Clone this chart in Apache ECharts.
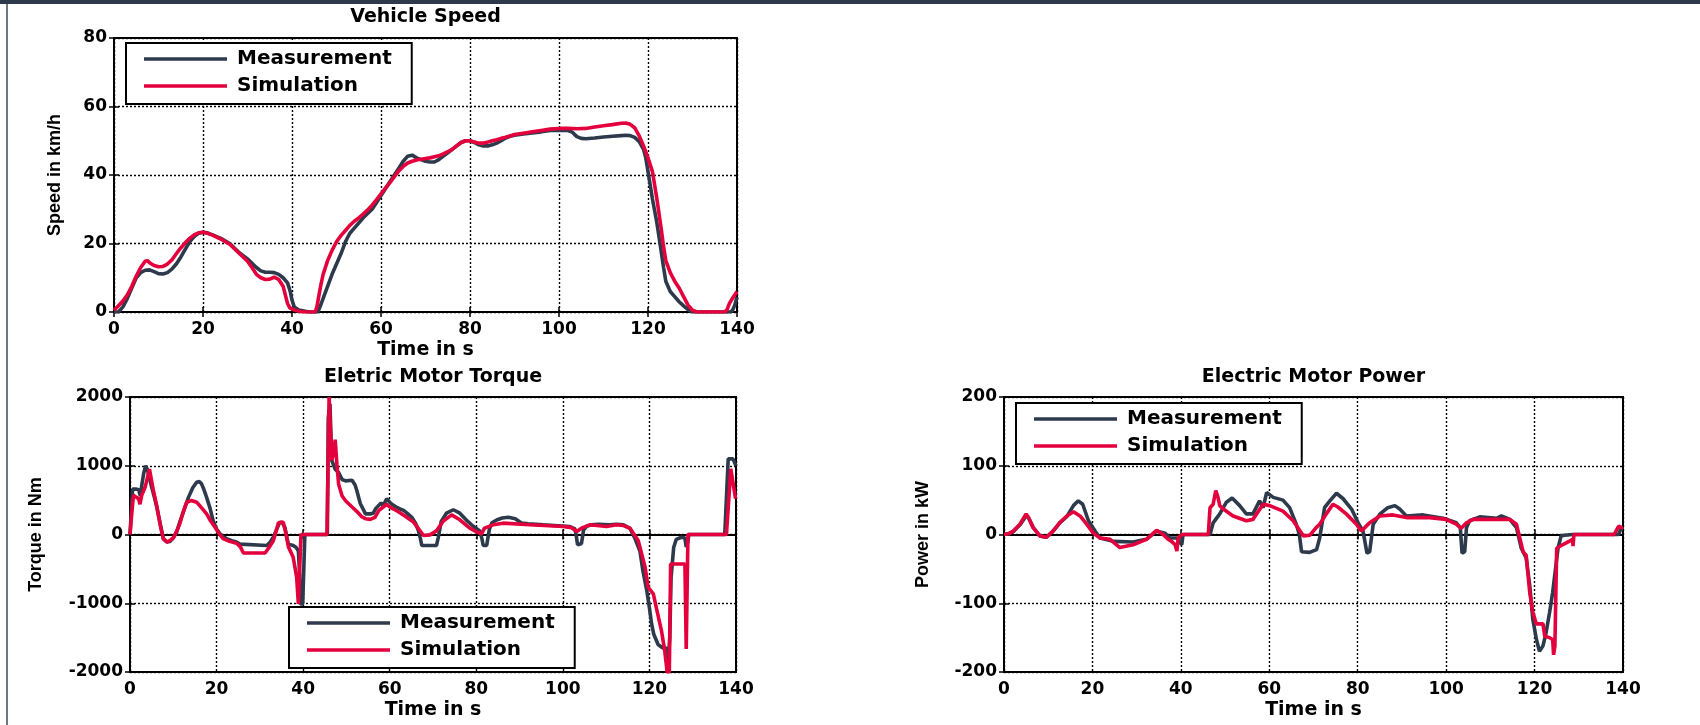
<!DOCTYPE html>
<html>
<head>
<meta charset="utf-8">
<title>Vehicle Speed, Motor Torque and Motor Power</title>
<script src="https://cdn.jsdelivr.net/npm/echarts@6/dist/echarts.min.js"></script>
<style>
  html, body { margin: 0; padding: 0; background: #fff; }
  #chart { width: 1700px; height: 725px; }
</style>
</head>
<body>
<div id="chart"></div>
<script>
// ---- data: [time in s, value] ----
const timeTicks = [0, 20, 40, 60, 80, 100, 120, 140];
const speedTicks = [0, 20, 40, 60, 80];
const torqueTicks = [-2000, -1000, 0, 1000, 2000];
const powerTicks = [-200, -100, 0, 100, 200];
const seriesNames = ['Measurement', 'Simulation'];

const speedMeasurement = [[0,0],[1,0],[2,1.5],[3,4],[4,7],[5,10],[6,11.5],[7,12.2],[8,12.3],[9,11.8],[10,11.2],[11,11.1],[12,11.5],[13,12.5],[14,14],[15,16],[16,18.3],[17,20.5],[18,22],[19,23],[20,23.3],[21,23.1],[22,22.6],[24,21.5],[26,20],[28,17.5],[30,15.5],[32,13],[33,12],[34,11.6],[35,11.6],[36,11.5],[37,11],[38,10],[39,8.5],[39.6,6],[40,3.5],[40.5,1.5],[41.5,0.6],[43,0.2],[44,0],[45.8,0],[46.3,1.5],[47,4],[48,7.5],[49,11],[50,14],[51,17],[52,20.5],[53,23],[54,24.5],[55,26],[56,27.5],[57,28.8],[58,30],[59,32],[60,34],[61,36],[62,38],[63,40],[64,42],[65,44],[66,45.5],[67,45.8],[68,45],[69,44.5],[70,44],[71,43.8],[72,43.8],[73,44.5],[74,45.5],[75,46.5],[76,47.5],[77,48.5],[78,49.5],[79,50],[80,50],[81,49.5],[82,48.8],[83,48.5],[84,48.5],[85,48.8],[86,49.3],[87,50],[88,50.8],[89,51.3],[90,51.6],[92,52],[94,52.3],[96,52.6],[98,53],[100,53],[102,53],[103,52.5],[104,51.2],[105,50.7],[106,50.6],[108,50.8],[110,51.1],[112,51.3],[114,51.5],[115,51.6],[116,51.5],[117,51],[118,49.8],[119,47.5],[119.5,45],[120,41],[121,33],[122,26],[122.7,20],[123.5,13],[124,9],[125,6],[126,4.5],[127,3],[128,1.8],[129,0.7],[130,0],[138.5,0],[139,0.5],[139.5,2],[140,4.4]];

const speedSimulation = [[0,0.5],[1,1.8],[2,3.2],[3,5],[4,7.5],[5,10.5],[6,13],[7,14.8],[7.5,15],[8,14.4],[9,13.6],[10,13.2],[11,13.3],[12,14],[13,15.2],[14,17],[15,18.7],[16,20.2],[17,21.5],[18,22.5],[19,23.1],[20,23.3],[21,23],[22,22.5],[24,21.3],[26,19.8],[28,17.3],[30,14.8],[31,13],[32,11],[33,10],[34,9.5],[35,9.6],[36,10.2],[37,9.5],[38,7.5],[38.5,5],[39,2.5],[39.5,1.2],[40.5,0.6],[42,0.1],[43,0],[45.2,0],[45.6,1.5],[46,4.5],[46.5,8],[47,11],[48,15],[49,18],[50,20.5],[51,22.3],[52,23.8],[53,25.3],[54,26.5],[55,27.5],[56,28.6],[57,29.8],[58,31.2],[59,32.8],[60,34.5],[61,36.2],[62,37.8],[63,39.5],[64,41.2],[65,42.5],[66,43.5],[67,44],[68,44.4],[69,44.6],[70,44.8],[71,45],[72,45.3],[73,45.6],[74,46.2],[75,46.8],[76,47.5],[77,48.5],[78,49.5],[79,50],[80,50],[81,49.6],[82,49.3],[83,49.3],[84,49.6],[85,50],[86,50.3],[87,50.7],[88,51],[89,51.4],[90,51.8],[92,52.2],[94,52.6],[96,53],[98,53.4],[100,53.6],[102,53.6],[104,53.5],[106,53.6],[108,54],[110,54.4],[112,54.7],[114,55.1],[115,55.2],[116,54.8],[117,53.8],[118,51.5],[119,48.5],[120,45],[121,41],[122,33],[123,24],[123.4,20],[124,15],[125,11.5],[126,9],[127,7],[128,4.5],[129,2],[130,0.5],[131,0],[137.2,0],[137.7,0.5],[138.3,2.5],[139,4],[140,6]];

const torqueMeasurement = [[0,0],[0.4,0],[0.6,660],[1,680],[1.5,660],[2,650],[2.4,560],[2.8,750],[3.2,900],[3.6,1000],[4,950],[4.5,820],[5,690],[5.6,550],[6.2,400],[7,150],[7.7,-60],[8.5,-110],[9.2,-100],[10,-50],[10.8,40],[11.5,180],[12.5,360],[13.5,540],[14.5,680],[15.4,760],[16,770],[16.5,740],[17.1,650],[17.7,540],[18.5,380],[19.2,200],[20,80],[20.8,10],[21.5,-30],[22.3,-60],[23.5,-90],[24.6,-110],[25.4,-140],[25.8,-160],[31.6,-160],[32.4,-110],[33.1,-40],[33.8,60],[34.6,180],[35.2,170],[35.8,100],[36.3,-60],[36.6,-140],[37.7,-160],[38.4,-190],[38.9,-240],[39.2,-600],[39.4,-1010],[39.9,-1010],[40.4,0],[45.6,0],[45.8,1700],[46.2,1900],[46.6,1080],[47.4,950],[48.2,900],[49,800],[49.8,780],[51.3,790],[52,720],[52.4,640],[53.2,450],[54.4,300],[55.5,300],[56.2,310],[56.8,380],[57.4,420],[58,460],[58.5,420],[59.3,520],[60,470],[60.5,440],[61.5,400],[62.5,370],[63.2,350],[64,310],[65.1,250],[66,160],[66.6,60],[67.1,-60],[67.4,-160],[70.8,-160],[71.2,-50],[71.9,190],[73.1,310],[74.7,360],[76.2,310],[77.7,210],[79.3,120],[80.8,50],[81.3,-60],[81.6,-160],[82.4,-160],[83,70],[83.6,170],[84.7,210],[86,240],[87.4,250],[89,230],[90.5,165],[92,155],[95.5,140],[98,130],[101.6,115],[102.8,80],[103.1,-20],[103.4,-150],[104.3,-130],[104.8,70],[105.5,120],[106.6,140],[108.2,150],[110.8,140],[112.4,150],[114,140],[115.5,90],[116.6,-50],[117.8,-240],[118.5,-530],[119.4,-820],[120,-1070],[120.5,-1300],[121,-1450],[122,-1600],[123.1,-1650],[123.9,-1650],[124.2,-2000],[124.5,-2000],[124.7,-1500],[125,-630],[125.6,-190],[126.2,-70],[127.4,-40],[128.2,-50],[128.5,-180],[128.9,-100],[129.1,0],[137.4,0],[138.2,1100],[139.3,1100],[140,1000]];

const torqueSimulation = [[0,0],[0.4,300],[0.8,570],[1.5,540],[2,520],[2.3,440],[2.7,570],[3.5,690],[4.5,950],[5.4,640],[6,470],[6.5,300],[7.1,100],[7.7,-60],[8.5,-110],[9.2,-90],[10,-50],[10.8,50],[11.5,155],[12.3,330],[13.1,470],[14.2,495],[15.4,470],[16.5,390],[17.7,300],[18.6,200],[19.6,110],[20.5,20],[21.5,-60],[23,-100],[24.6,-126],[25.5,-180],[26.2,-270],[31.2,-270],[32,-200],[33.1,-90],[33.8,60],[34.3,170],[35.4,180],[36,20],[36.6,-180],[37.7,-330],[38.5,-620],[38.9,-1010],[39.2,-1010],[39.5,0],[45.5,0],[46,2000],[46.6,1080],[47.1,1200],[47.4,1380],[47.8,1020],[48.2,730],[49,560],[49.8,490],[51.3,400],[52.5,330],[53.5,260],[54.4,230],[55.5,220],[56.6,250],[57.5,350],[58.5,400],[59.3,440],[60,400],[60.9,370],[62,330],[63.5,270],[65.5,180],[66.8,70],[67.8,-15],[69.3,-5],[70.8,53],[72.3,190],[74.3,286],[76.2,214],[78.5,92],[80,40],[81.2,10],[81.9,92],[83.9,141],[86.2,165],[92.4,141],[100.1,117],[102,100],[103.2,44],[104.3,92],[106.2,141],[110.1,117],[112.4,141],[114,130],[115.5,92],[117.4,-87],[119,-476],[119.7,-767],[120.9,-864],[121.6,-1068],[122.8,-1407],[123.5,-1675],[124.1,-2000],[124.6,-2000],[124.9,-430],[128.2,-430],[128.5,-1665],[128.9,0],[137.8,0],[138.8,956],[139.9,519]];

const powerMeasurement = [[0,0],[1,1],[2.1,4],[3.6,14],[5,27],[5.5,25],[6.6,10],[8.1,-2],[9.6,-4],[11.1,5],[12.6,17],[14.2,26],[15.7,42],[16.8,49],[17.8,44],[19.1,20],[20.6,5],[21.7,-5],[24.7,-10],[29.2,-11],[32.2,-7],[34.5,5],[36.4,2],[37.5,-5],[39.1,-5],[40.2,-15],[40.5,0],[46.6,0],[47.3,17],[48.8,30],[50.3,47],[51.6,53],[53.3,42],[54.8,30],[56.3,30],[57.8,49],[58.6,39],[59.4,61],[60.9,54],[63.1,50],[64.6,39],[66.1,15],[66.8,0],[67.3,-25],[69.1,-26],[70.7,-22],[71.4,-5],[72.5,39],[73.7,49],[75.2,60],[76.7,52],[78.6,37],[80.1,17],[81.2,5],[82.1,-27],[82.7,-25],[83.5,15],[85,29.5],[86.8,39],[88.4,42],[89.5,37],[91,27],[94.8,28.5],[99.3,23.6],[102.3,17],[103.2,10],[103.6,-27],[104.2,-25],[104.6,10],[105.3,20],[107.6,25.6],[111.4,23.6],[112.5,27],[114.4,22],[115.9,10],[117,-20],[118.1,-34],[118.9,-74],[119.6,-123],[120.4,-152],[121.1,-170],[121.9,-162],[122.6,-143],[123.4,-113],[124.1,-84],[125.3,-20],[126,-2],[126.8,-1],[128.6,0],[139,0],[139.5,8],[140,8]];

const powerSimulation = [[0,0],[1,1],[2.1,5],[3.6,15],[5,30],[5.5,25],[6.6,10],[8.1,-2],[9.6,-4],[11.1,5],[12.6,17],[14.2,27],[15.7,33],[17.2,27],[18.7,15],[20.2,2],[21.7,-5],[24,-7],[26.2,-19],[29.2,-15],[32.2,-7],[34.5,6],[36,0],[37.1,-7],[37.9,-10],[38.7,-15],[39.1,-24],[39.4,-5],[40.2,0],[46.2,0],[46.6,39],[47.3,44],[47.9,64],[48.4,54],[48.8,42],[49.6,37],[51.8,27],[54.8,20],[56.3,22],[58.6,44],[60.1,42],[63.1,34],[65.4,20],[67.7,-2],[69.2,-1],[70.6,10],[71.4,15],[72.9,30],[74.4,44],[75.5,40],[77.4,30],[79.7,15],[80.8,5],[81.6,10],[82.7,17],[85,27],[88,28.5],[91,24.6],[96.3,24.6],[100,22],[102.3,15],[103.4,9],[104.6,17],[106.1,22],[110.6,22],[114.4,22],[115.9,15],[117.4,-25],[118.1,-30],[118.9,-84],[119.6,-113],[120.4,-130],[121.9,-130],[122.3,-148],[123.4,-150],[124.1,-153],[124.3,-175],[124.6,-162],[125,-20],[126.3,-15],[127.8,-10],[128.6,-7],[128.7,-17],[128.9,0],[138,0],[139,12],[139.8,10],[140,11]];

// ---- styling ----
const COLOR_MEAS = '#2d3a4c';
const COLOR_SIM = '#e4003c';
const TICK_FONT = 'DejaVu Sans';
const NAME_FONT = 'Liberation Sans';

// panel geometry in pixels
const panels = [
  { left: 114, top: 38, width: 623, height: 274, yTicks: speedTicks, yName: 'Speed in km/h', yNameGap: 50,
    title: 'Vehicle Speed', titleTop: 8, legend: { left: 126, top: 43 },
    meas: speedMeasurement, sim: speedSimulation },
  { left: 130, top: 397, width: 606, height: 275, yTicks: torqueTicks, yName: 'Torque in Nm', yNameGap: 85,
    title: 'Eletric Motor Torque', titleTop: 368, legend: { left: 289, top: 607 },
    meas: torqueMeasurement, sim: torqueSimulation },
  { left: 1004, top: 397, width: 619, height: 275, yTicks: powerTicks, yName: 'Power in kW', yNameGap: 72,
    title: 'Electric Motor Power', titleTop: 368, legend: { left: 1016, top: 403 },
    meas: powerMeasurement, sim: powerSimulation }
];

const grids = [], xAxes = [], yAxes = [], series = [], titles = [], legends = [];
const dotted = { type: [2, 2], color: '#000', width: 1.4 };
const tickLabel = { color: '#000', fontFamily: TICK_FONT, fontWeight: 'bold', fontSize: 17,
  formatter: v => String(v) };

panels.forEach((p, i) => {
  grids.push({ left: p.left, top: p.top, width: p.width, height: p.height,
    show: true, borderColor: '#000', borderWidth: 2, backgroundColor: '#fff' });
  titles.push({ text: p.title, left: p.left + p.width / 2, top: p.titleTop, textAlign: 'center', padding: 0,
    textStyle: { color: '#000', fontFamily: TICK_FONT, fontWeight: 'bold', fontSize: 19 } });
  legends.push({ data: seriesNames, orient: 'vertical', left: p.legend.left, top: p.legend.top,
    icon: 'rect', itemWidth: 83, itemHeight: 3.5, itemGap: 7, padding: [6, 20, 8, 18], selectedMode: false,
    borderColor: '#000', borderWidth: 2, backgroundColor: '#fff', z: 10,
    textStyle: { color: '#000', fontFamily: TICK_FONT, fontWeight: 'bold', fontSize: 20, padding: [0, 0, 0, 5] } });
});

// bottom / left axes with labels and grid lines
panels.forEach((p, i) => {
  const yMin = p.yTicks[0], yMax = p.yTicks[p.yTicks.length - 1];
  xAxes.push({ gridIndex: i, type: 'value', min: timeTicks[0], max: timeTicks[timeTicks.length - 1],
    interval: timeTicks[1] - timeTicks[0],
    name: 'Time in s', nameLocation: 'middle', nameGap: 29,
    nameTextStyle: { color: '#000', fontFamily: TICK_FONT, fontWeight: 'bold', fontSize: 19 },
    axisLine: { show: true, lineStyle: { color: '#000', width: 2 } },
    axisTick: { show: true, inside: true, length: 5, lineStyle: { color: '#000', width: 1.5 } },
    axisLabel: Object.assign({ margin: 9 }, tickLabel),
    splitLine: { show: true, lineStyle: dotted } });
  yAxes.push({ gridIndex: i, type: 'value', min: yMin, max: yMax, interval: p.yTicks[1] - p.yTicks[0],
    name: p.yName, nameLocation: 'middle', nameGap: p.yNameGap, nameRotate: 90,
    nameTextStyle: { color: '#000', fontFamily: NAME_FONT, fontWeight: 'bold', fontSize: 18 },
    axisLine: { show: true, lineStyle: { color: '#000', width: 2 } },
    axisTick: { show: true, inside: true, length: 5, lineStyle: { color: '#000', width: 1.5 } },
    axisLabel: Object.assign({ margin: 7 }, tickLabel),
    splitLine: { show: true, lineStyle: dotted } });
});
// top / right axes carrying only the inner tick marks
panels.forEach((p, i) => {
  const yMin = p.yTicks[0], yMax = p.yTicks[p.yTicks.length - 1];
  xAxes.push({ gridIndex: i, type: 'value', position: 'top', min: 0, max: 140, interval: 20,
    axisLine: { show: true, lineStyle: { color: '#000', width: 2 } },
    axisTick: { show: true, inside: true, length: 5, lineStyle: { color: '#000', width: 1.5 } },
    axisLabel: { show: false }, splitLine: { show: false } });
  yAxes.push({ gridIndex: i, type: 'value', position: 'right', min: yMin, max: yMax, interval: p.yTicks[1] - p.yTicks[0],
    axisLine: { show: true, lineStyle: { color: '#000', width: 2 } },
    axisTick: { show: true, inside: true, length: 5, lineStyle: { color: '#000', width: 1.5 } },
    axisLabel: { show: false }, splitLine: { show: false } });
});

panels.forEach((p, i) => {
  series.push({ name: seriesNames[0], type: 'line', xAxisIndex: i, yAxisIndex: i, data: p.meas,
    symbol: 'none', showSymbol: false, color: COLOR_MEAS, lineStyle: { color: COLOR_MEAS, width: 3.6 }, z: 3 });
  series.push({ name: seriesNames[1], type: 'line', xAxisIndex: i, yAxisIndex: i, data: p.sim,
    symbol: 'none', showSymbol: false, color: COLOR_SIM, lineStyle: { color: COLOR_SIM, width: 3.6 }, z: 4 });
});

const chart = echarts.init(document.getElementById('chart'), null, { renderer: 'canvas' });
chart.setOption({
  animation: false,
  backgroundColor: '#fff',
  title: titles,
  legend: legends,
  grid: grids,
  xAxis: xAxes,
  yAxis: yAxes,
  series: series,
  graphic: [
    { type: 'rect', left: 0, top: 0, shape: { width: 1700, height: 4 }, style: { fill: '#2e3a4b' }, silent: true },
    { type: 'rect', left: 6, top: 4, shape: { width: 2, height: 721 }, style: { fill: '#6f7884' }, silent: true }
  ]
});
</script>
</body>
</html>
